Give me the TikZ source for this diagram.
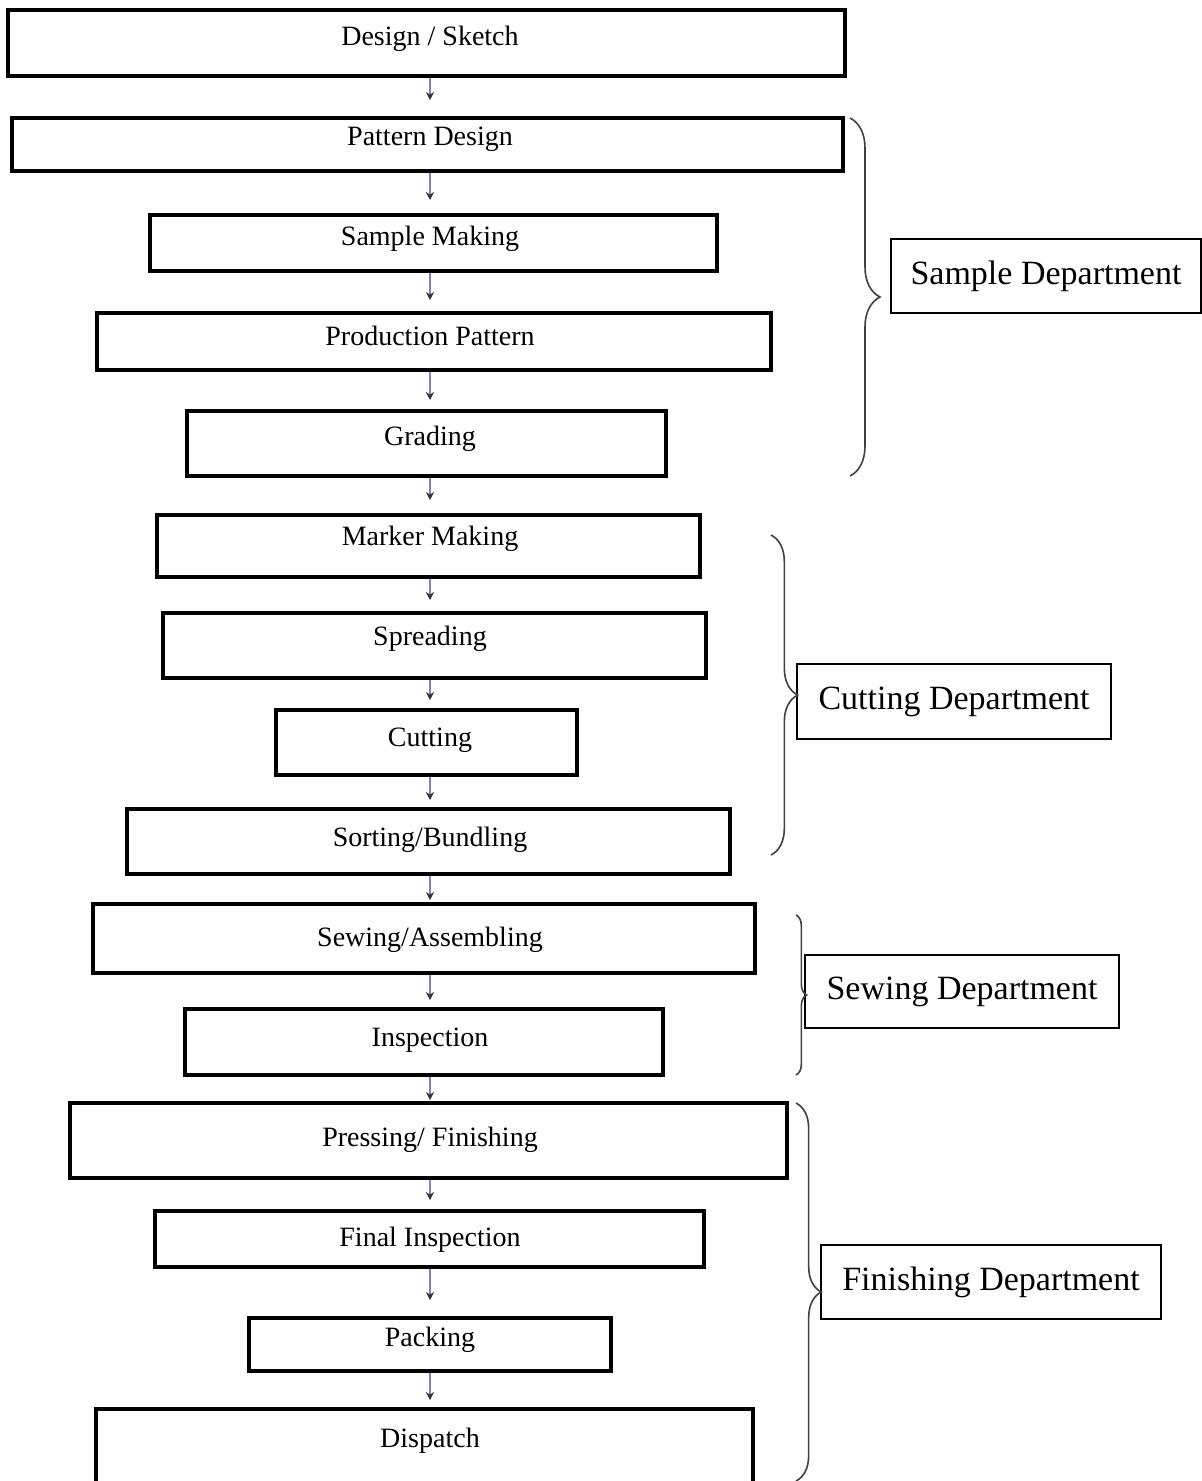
\documentclass[tikz,border=0pt]{standalone}
\usepackage{fontspec}
\setmainfont{Liberation Serif}
\usetikzlibrary{arrows.meta,decorations.pathreplacing}
\definecolor{flowline}{RGB}{130,130,190}
\tikzset{
stepbox/.style={draw,line width=2.4pt,rectangle,inner sep=0pt},
steptext/.style={font=\fontsize{21}{25}\selectfont,anchor=base,inner sep=0pt},
deptbox/.style={draw,line width=1.1pt,rectangle,inner sep=0pt,font=\fontsize{25.5}{30}\selectfont},
flow/.style={line width=0.8pt,draw=flowline,-{Stealth[length=6pt,width=6pt,black!80]}},
deptbrace/.style={decorate,decoration={brace,amplitude=#1},line width=1.2pt,draw=black!75}
}
\begin{document}
\begin{tikzpicture}[x=0.75pt,y=-0.75pt]
\pgfmathsetmacro{\kcol}{430}
\pgfmathsetmacro{\krow}{100.15}
\pgfmathsetmacro{\kbase}{45}
\useasboundingbox(0,0)rectangle(1202,1481);
\foreach \i/\l/\t/\r/\b/\txt in {1/8/10/845/76/{Design / Sketch},2/12/118/843/171/{Pattern Design},3/150/215/717/271/{Sample Making},4/97/313/771/370/{Production Pattern},5/187/411/666/476/{Grading},6/157/515/700/577/{Marker Making},7/163/613/706/678/{Spreading},8/276/710/577/775/{Cutting},9/127/809/730/874/{Sorting/Bundling},10/93/904/755/973/{Sewing/Assembling},11/185/1009/663/1075/{Inspection},12/70/1103/787/1178/{Pressing/ Finishing},13/155/1211/704/1267/{Final Inspection},14/249/1318/611/1371/{Packing},15/96/1409/753/1495/{Dispatch}}{
\node[stepbox,minimum width={(\r-\l)*0.75pt},minimum height={(\b-\t)*0.75pt}](b\i)at({(\l+\r)/2},{(\t+\b)/2}){};
\node[steptext](t\i)at(\kcol,{\kbase+\krow*(\i-1)}){\txt};}
\foreach \i [evaluate=\i as \j using int(\i+1)] in {1,...,14}{\coordinate(a\j)at(\kcol,{100*\i});\draw[flow](a\j|-b\i.south)--(a\j);}
\node[deptbox,minimum width=310*0.75pt,minimum height=74*0.75pt](sample)at(1046,276){Sample Department};
\node[deptbox,minimum width=314*0.75pt,minimum height=75*0.75pt](cutting)at(954,701.5){Cutting Department};
\node[deptbox,minimum width=314*0.75pt,minimum height=73*0.75pt](sewing)at(962,991.5){Sewing Department};
\node[deptbox,minimum width=340*0.75pt,minimum height=74*0.75pt](finishing)at(991,1282){Finishing Department};
\draw[deptbrace=22.5pt](850,118)--(850,476);
\draw[deptbrace=20pt](771,535)--(771,855);
\draw[deptbrace=8pt](796,915)--(796,1075);
\draw[deptbrace=19pt](796,1103)--(796,1481);
\end{tikzpicture}
\end{document}
